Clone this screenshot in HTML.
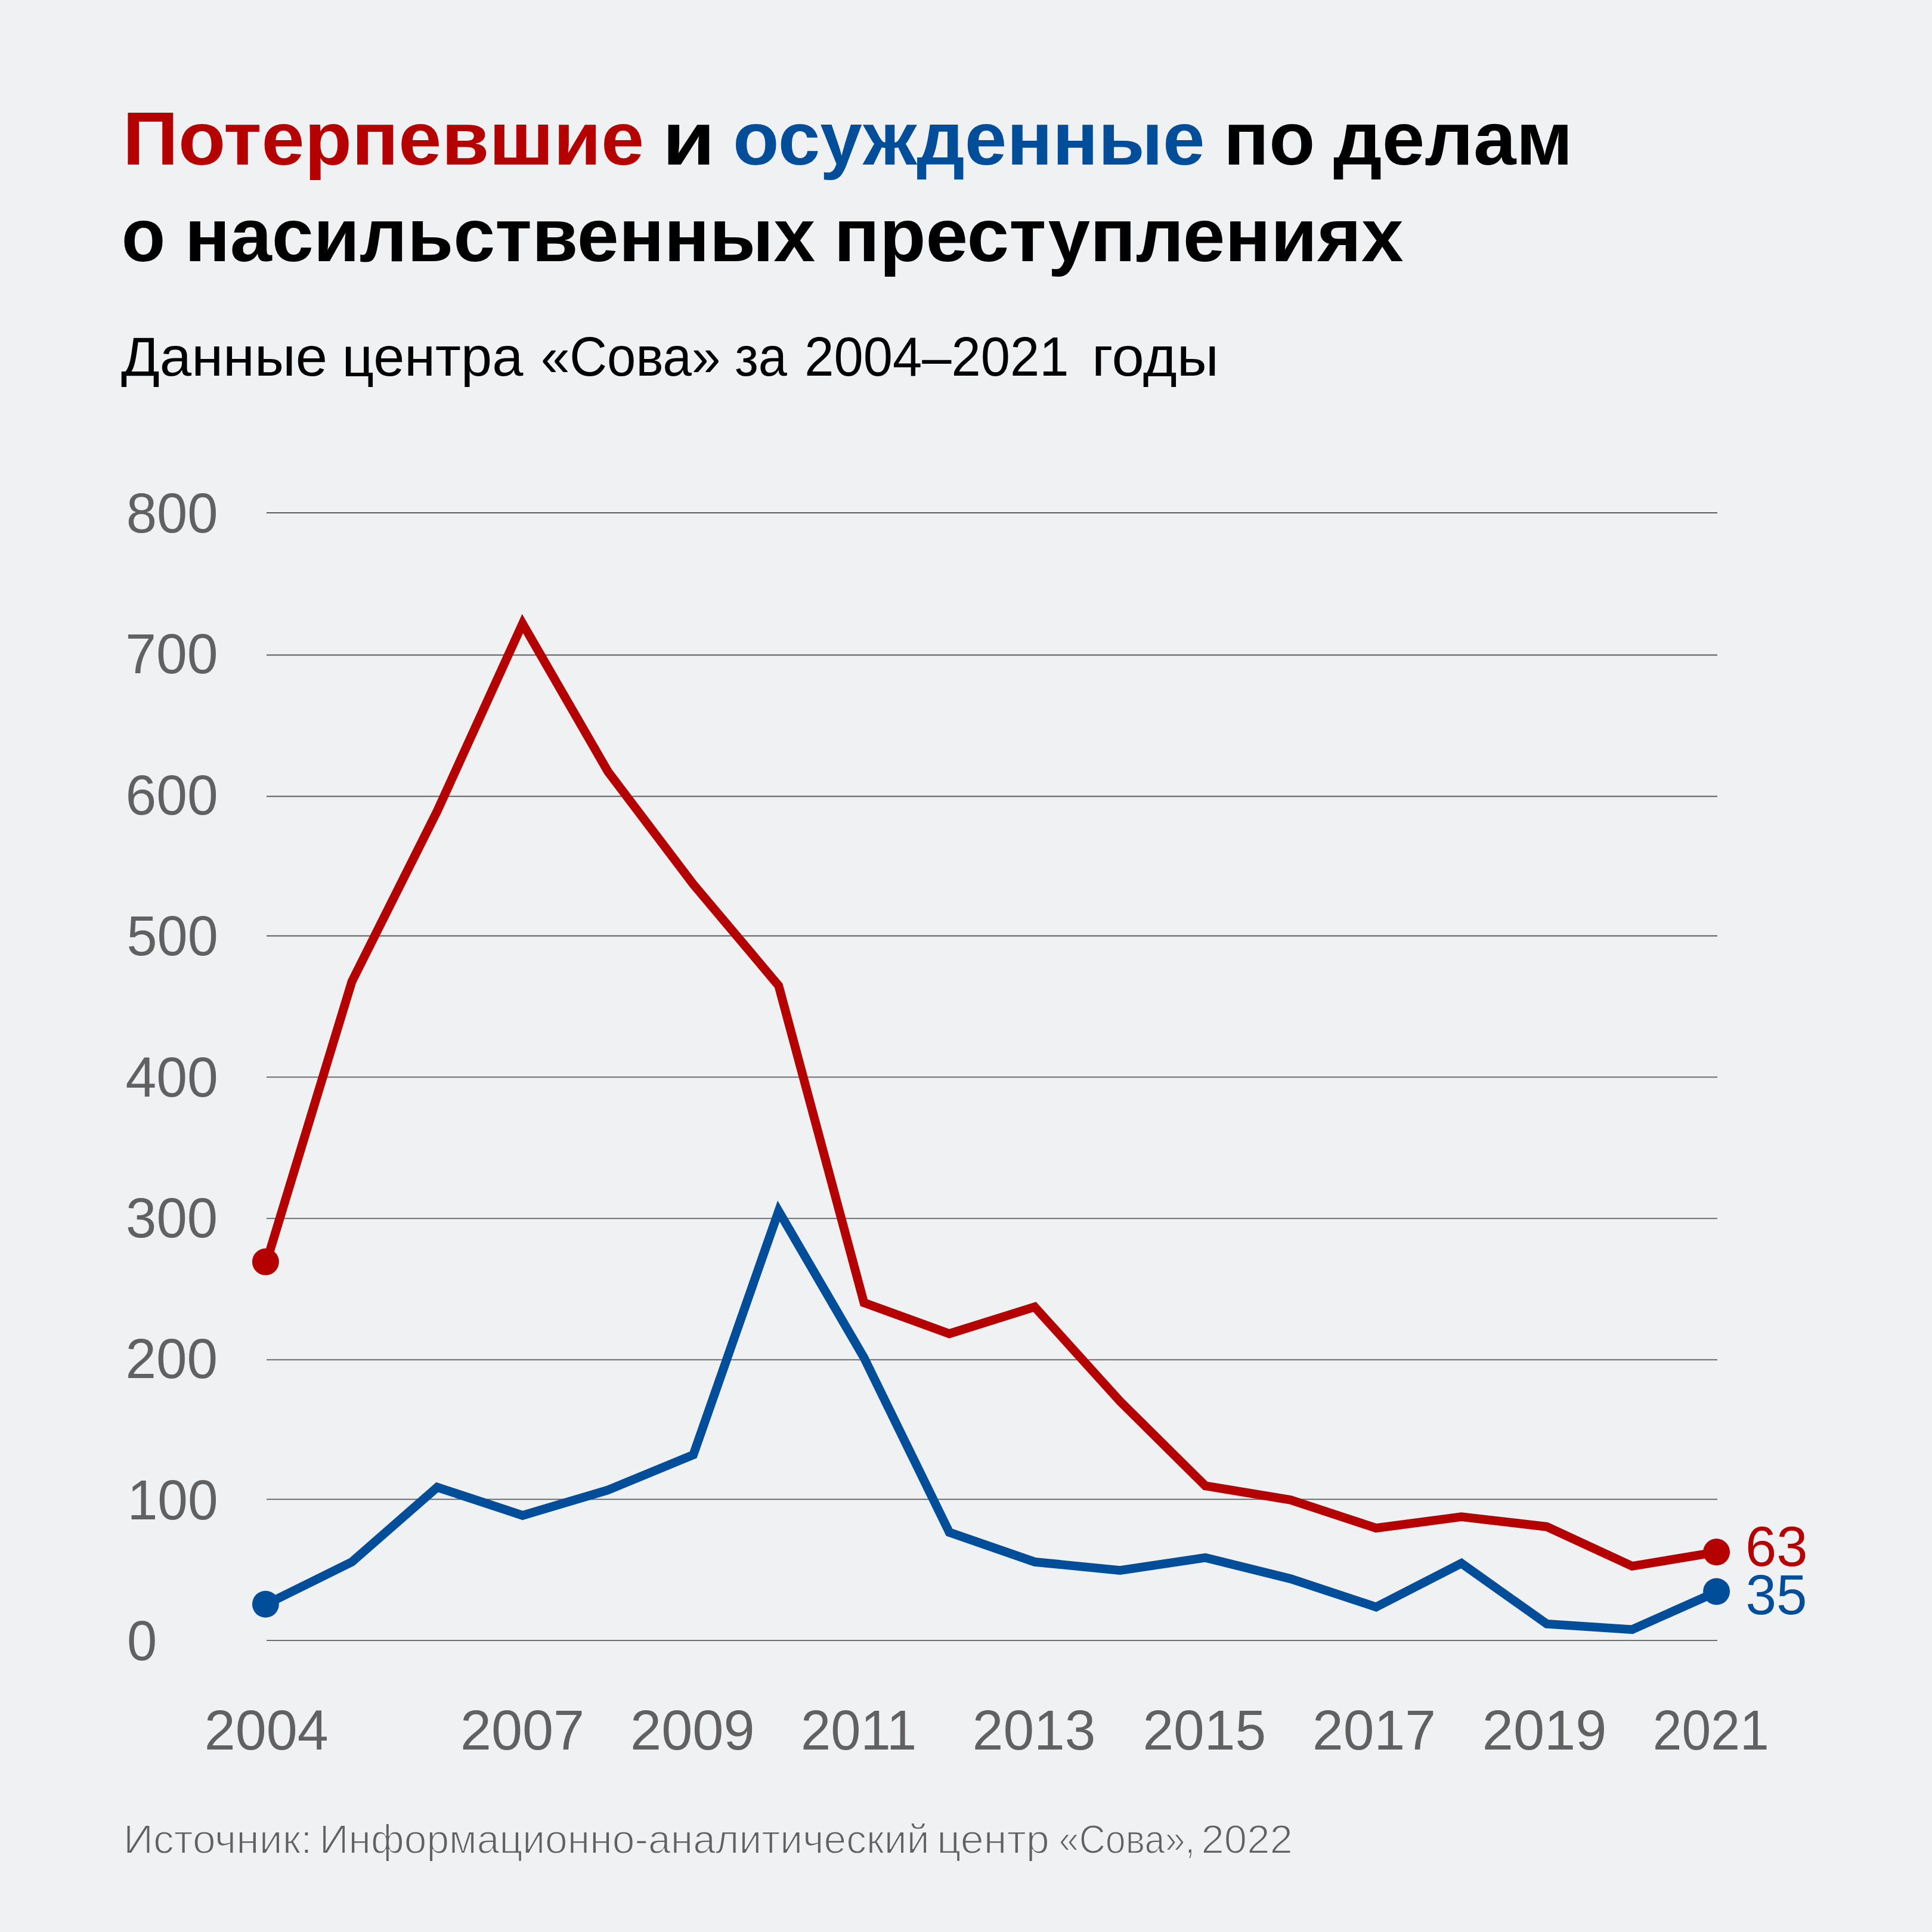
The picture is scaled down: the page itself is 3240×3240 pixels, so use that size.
<!DOCTYPE html>
<html><head><meta charset="utf-8"><style>
html,body{margin:0;padding:0;background:#F0F1F3;}
svg{display:block;}
text{font-family:"Liberation Sans",sans-serif;}
.t{font-size:127px;font-weight:bold;}
.sub{font-size:92px;}
.ax{font-size:95px;}
.src{font-size:69px;stroke:#F0F1F3;stroke-width:1.8px;}
</style></head><body>
<svg width="3240" height="3240" viewBox="0 0 3240 3240">
<rect width="3240" height="3240" fill="#F0F1F3"/>
<line x1="447" y1="2751.20" x2="2880" y2="2751.20" stroke="#5C5C5C" stroke-width="1.8"/>
<line x1="447" y1="2514.40" x2="2880" y2="2514.40" stroke="#5C5C5C" stroke-width="1.8"/>
<line x1="447" y1="2280.40" x2="2880" y2="2280.40" stroke="#5C5C5C" stroke-width="1.8"/>
<line x1="447" y1="2043.40" x2="2880" y2="2043.40" stroke="#5C5C5C" stroke-width="1.8"/>
<line x1="447" y1="1806.45" x2="2880" y2="1806.45" stroke="#5C5C5C" stroke-width="1.8"/>
<line x1="447" y1="1569.50" x2="2880" y2="1569.50" stroke="#5C5C5C" stroke-width="1.8"/>
<line x1="447" y1="1335.50" x2="2880" y2="1335.50" stroke="#5C5C5C" stroke-width="1.8"/>
<line x1="447" y1="1098.50" x2="2880" y2="1098.50" stroke="#5C5C5C" stroke-width="1.8"/>
<line x1="447" y1="860.00" x2="2880" y2="860.00" stroke="#5C5C5C" stroke-width="1.8"/>
<polyline points="447.00,2116.10 590.13,1645.93 733.26,1360.04 876.39,1045.80 1019.52,1293.88 1162.65,1482.90 1305.78,1653.01 1448.91,2184.62 1592.04,2236.60 1735.16,2191.71 1878.29,2350.01 2021.42,2491.77 2164.55,2515.40 2307.68,2562.65 2450.81,2543.75 2593.94,2560.29 2737.07,2626.45 2880.20,2602.82" fill="none" stroke="#B40000" stroke-width="14.8" stroke-linejoin="miter" stroke-miterlimit="10"/><circle cx="445.40" cy="2116.10" r="22.5" fill="#B40000"/><circle cx="2878.60" cy="2602.82" r="22.5" fill="#B40000"/>
<polyline points="447.00,2690.24 590.13,2619.36 733.26,2494.14 876.39,2541.39 1019.52,2498.86 1162.65,2439.79 1305.78,2031.05 1448.91,2276.77 1592.04,2569.74 1735.16,2619.36 1878.29,2633.53 2021.42,2612.27 2164.55,2647.71 2307.68,2694.97 2450.81,2621.72 2593.94,2723.32 2737.07,2732.77 2880.20,2668.98" fill="none" stroke="#004E9A" stroke-width="14.8" stroke-linejoin="miter" stroke-miterlimit="10"/><circle cx="445.40" cy="2690.24" r="22.5" fill="#004E9A"/><circle cx="2878.60" cy="2668.98" r="22.5" fill="#004E9A"/>
<text class="t" x="205.83" y="276.00" fill="#B40000" textLength="874.34" lengthAdjust="spacingAndGlyphs">Потерпевшие</text>
<text class="t" x="1110.80" y="276.00" fill="#000000" textLength="88.49" lengthAdjust="spacingAndGlyphs">и</text>
<text class="t" x="1229.01" y="276.00" fill="#004E9A" textLength="791.50" lengthAdjust="spacingAndGlyphs">осужденные</text>
<text class="t" x="2052.06" y="276.00" fill="#000000" textLength="153.19" lengthAdjust="spacingAndGlyphs">по</text>
<text class="t" x="2235.99" y="276.00" fill="#000000" textLength="401.64" lengthAdjust="spacingAndGlyphs">делам</text>
<text class="t" x="203.76" y="437.50" fill="#000000" textLength="73.59" lengthAdjust="spacingAndGlyphs">о</text>
<text class="t" x="309.68" y="437.50" fill="#000000" textLength="1057.48" lengthAdjust="spacingAndGlyphs">насильственных</text>
<text class="t" x="1398.40" y="437.50" fill="#000000" textLength="955.33" lengthAdjust="spacingAndGlyphs">преступлениях</text>
<text class="sub" x="202.96" y="630.00" fill="#000000" textLength="346.21" lengthAdjust="spacingAndGlyphs">Данные</text>
<text class="sub" x="573.48" y="630.00" fill="#000000" textLength="303.93" lengthAdjust="spacingAndGlyphs">центра</text>
<text class="sub" x="906.92" y="630.00" fill="#000000" textLength="301.42" lengthAdjust="spacingAndGlyphs">«Сова»</text>
<text class="sub" x="1232.18" y="630.00" fill="#000000" textLength="87.76" lengthAdjust="spacingAndGlyphs">за</text>
<text class="sub" x="1349.29" y="630.00" fill="#000000" textLength="443.14" lengthAdjust="spacingAndGlyphs">2004–2021</text>
<text class="sub" x="1831.03" y="630.00" fill="#000000" textLength="212.87" lengthAdjust="spacingAndGlyphs">годы</text>
<text class="src" x="206.94" y="3108.00" fill="#616161" textLength="316.57" lengthAdjust="spacingAndGlyphs">Источник:</text>
<text class="src" x="535.72" y="3108.00" fill="#616161" textLength="1022.81" lengthAdjust="spacingAndGlyphs">Информационно-аналитический</text>
<text class="src" x="1571.39" y="3108.00" fill="#616161" textLength="188.48" lengthAdjust="spacingAndGlyphs">центр</text>
<text class="src" x="1775.86" y="3108.00" fill="#616161" textLength="228.47" lengthAdjust="spacingAndGlyphs">«Сова»,</text>
<text class="src" x="2014.50" y="3108.00" fill="#616161" textLength="153.39" lengthAdjust="spacingAndGlyphs">2022</text>
<text class="ax" x="211.72" y="893.00" fill="#616161" textLength="153.90" lengthAdjust="spacingAndGlyphs">800</text>
<text class="ax" x="210.30" y="1129.38" fill="#616161" textLength="155.35" lengthAdjust="spacingAndGlyphs">700</text>
<text class="ax" x="210.60" y="1365.75" fill="#616161" textLength="155.24" lengthAdjust="spacingAndGlyphs">600</text>
<text class="ax" x="212.53" y="1602.12" fill="#616161" textLength="153.27" lengthAdjust="spacingAndGlyphs">500</text>
<text class="ax" x="210.44" y="1838.50" fill="#616161" textLength="155.41" lengthAdjust="spacingAndGlyphs">400</text>
<text class="ax" x="211.11" y="2074.88" fill="#616161" textLength="154.00" lengthAdjust="spacingAndGlyphs">300</text>
<text class="ax" x="210.52" y="2311.25" fill="#616161" textLength="154.61" lengthAdjust="spacingAndGlyphs">200</text>
<text class="ax" x="213.69" y="2547.62" fill="#616161" textLength="151.88" lengthAdjust="spacingAndGlyphs">100</text>
<text class="ax" x="213.10" y="2784.00" fill="#616161" textLength="50.26" lengthAdjust="spacingAndGlyphs">0</text>
<text class="ax" x="342.68" y="2934.00" fill="#616161" textLength="208.03" lengthAdjust="spacingAndGlyphs">2004</text>
<text class="ax" x="772.08" y="2934.00" fill="#616161" textLength="208.00" lengthAdjust="spacingAndGlyphs">2007</text>
<text class="ax" x="1057.06" y="2934.00" fill="#616161" textLength="208.62" lengthAdjust="spacingAndGlyphs">2009</text>
<text class="ax" x="1343.05" y="2934.00" fill="#616161" textLength="194.03" lengthAdjust="spacingAndGlyphs">2011</text>
<text class="ax" x="1630.71" y="2934.00" fill="#616161" textLength="206.84" lengthAdjust="spacingAndGlyphs">2013</text>
<text class="ax" x="1916.41" y="2934.00" fill="#616161" textLength="206.84" lengthAdjust="spacingAndGlyphs">2015</text>
<text class="ax" x="2201.11" y="2934.00" fill="#616161" textLength="206.84" lengthAdjust="spacingAndGlyphs">2017</text>
<text class="ax" x="2485.77" y="2934.00" fill="#616161" textLength="208.52" lengthAdjust="spacingAndGlyphs">2019</text>
<text class="ax" x="2771.79" y="2934.00" fill="#616161" textLength="194.92" lengthAdjust="spacingAndGlyphs">2021</text>
<text class="ax" x="2927.05" y="2626.00" fill="#B40000" textLength="104.57" lengthAdjust="spacingAndGlyphs">63</text>
<text class="ax" x="2927.60" y="2707.00" fill="#004E9A" textLength="102.98" lengthAdjust="spacingAndGlyphs">35</text>
</svg></body></html>
